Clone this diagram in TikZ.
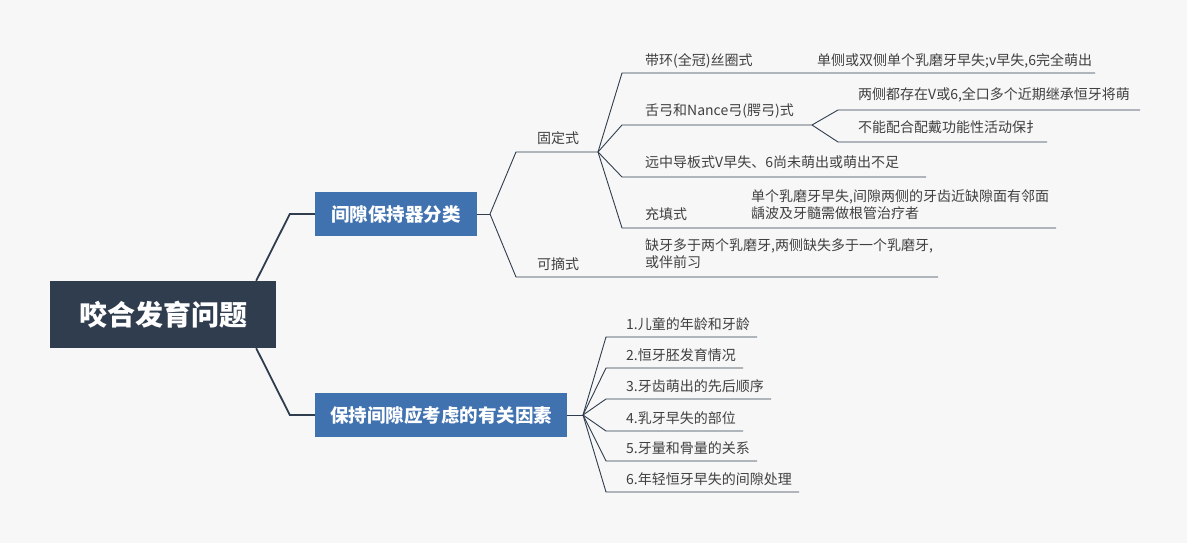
\documentclass[tikz,border=0pt]{standalone}
\usepackage{fontspec}
\setmainfont{Noto Sans CJK SC}
\definecolor{bg}{HTML}{F7F7F7}
\definecolor{rootc}{HTML}{2F3D4F}
\definecolor{brc}{HTML}{4172B0}
\definecolor{linec}{HTML}{2F3D4F}
\definecolor{txtc}{HTML}{404040}
\begin{document}
\begin{tikzpicture}[x=1pt,y=-1pt,
  rootbox/.style={fill=rootc,text=white,minimum width=226pt,minimum height=67pt,inner sep=0pt,font=\fontsize{28}{32}\selectfont\bfseries},
  brbox/.style={fill=brc,text=white,minimum height=44pt,inner sep=0pt,font=\fontsize{18.5}{22}\selectfont\bfseries},
  lbl/.style={anchor=west,inner sep=0pt,text=txtc,font=\fontsize{14}{17}\selectfont,align=left},
  mainline/.style={draw=linec,line width=1.8pt},
  subline/.style={draw=linec,line width=0.9pt}]
\useasboundingbox[fill=bg] (0,0) rectangle (1187,543);

% root and main branches
\node[rootbox] (root) at (163,314.5) {咬合发育问题};
\node[brbox,minimum width=162pt] (b1) at (396,214) {间隙保持器分类};
\node[brbox,minimum width=252pt] (b2) at (441,415) {保持间隙应考虑的有关因素};

\coordinate (rt) at ([xshift=-20pt]root.north east);
\coordinate (rb) at ([xshift=-20pt]root.south east);
\coordinate (e1) at ([xshift=-25pt]b1.west);
\coordinate (e2) at ([xshift=-25pt]b2.west);
\draw[mainline] (rt) -- (e1) -- (b1.west);
\draw[mainline] (rb) -- (e2) -- (b2.west);

% branch 1
\coordinate (f1) at (490,214);
\coordinate (gd1) at (516,152);
\coordinate (gd2) at (598,152);
\coordinate (kz1) at (516,277);
\coordinate (kz2) at (938,277);
\draw[subline] (b1.east) -- (f1);
\draw[subline] (f1) -- (gd1) -- (gd2);
\draw[subline] (f1) -- (kz1) -- (kz2);
\node[lbl] (gd) at (537,138) {固定式};
\node[lbl] (kz) at (537,264) {可摘式};
\node[lbl] (kzc) at (645,254) {缺牙多于两个乳磨牙,两侧缺失多于一个乳磨牙,\\或伴前习};

% fixed types
\coordinate (dh1) at (622,73);
\coordinate (dh2) at (1095,73);
\coordinate (sg1) at (622,125);
\coordinate (sg2) at (812,125);
\coordinate (yz1) at (622,177);
\coordinate (yz2) at (926,177);
\coordinate (ct1) at (622,228);
\coordinate (ct2) at (1056,228);
\draw[subline] (gd2) -- (dh1) -- (dh2);
\draw[subline] (gd2) -- (sg1) -- (sg2);
\draw[subline] (gd2) -- (yz1) -- (yz2);
\draw[subline] (gd2) -- (ct1) -- (ct2);
\node[lbl] (dh) at (645,61) {带环(全冠)丝圈式};
\node[lbl] (dhc) at (817,61) {单侧或双侧单个乳磨牙早失;v早失,6完全萌出};
\node[lbl] (sg) at (645,111) {舌弓和Nance弓(腭弓)式};
\node[lbl] (yz) at (645,162) {远中导板式V早失、6尚未萌出或萌出不足};
\node[lbl] (ct) at (645,214) {充填式};
\node[lbl] (ctc) at (751,205) {单个乳磨牙早失,间隙两侧的牙齿近缺隙面有邻面\\龋波及牙髓需做根管治疗者};

\coordinate (lc1) at (838,110);
\coordinate (lc2) at (1140,110);
\coordinate (bn1) at (838,142);
\coordinate (bn2) at (1047,142);
\draw[subline] (sg2) -- (lc1) -- (lc2);
\draw[subline] (sg2) -- (bn1) -- (bn2);
\node[lbl] (lc) at (858,95) {两侧都存在V或6,全口多个近期继承恒牙将萌};
\node[lbl] (bn) at (858,127) {不能配合配戴功能性活动保扌};

% branch 2
\coordinate (f2) at (583,415);
\draw[subline] (b2.east) -- (f2);
\foreach \i/\y/\e/\t in {1/337/757/{1.儿童的年龄和牙龄},2/368/743/{2.恒牙胚发育情况},3/399/771/{3.牙齿萌出的先后顺序},4/431/743/{4.乳牙早失的部位},5/461/757/{5.牙量和骨量的关系},6/492/799/{6.年轻恒牙早失的间隙处理}}{
  \coordinate (fa\i) at (606,\y);
  \coordinate (fb\i) at (\e,\y);
  \draw[subline] (f2) -- (fa\i) -- (fb\i);
  \node[lbl] (ft\i) at (626,\y-12.5) {\t};
}
\end{tikzpicture}
\end{document}
